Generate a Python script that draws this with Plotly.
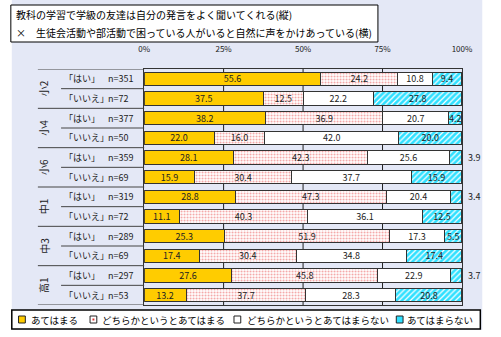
import plotly.graph_objects as go

# ---- data -------------------------------------------------------------
grades = ["小2", "小4", "小6", "中1", "中3", "高1"]
answers = ["「はい」", "「いいえ」"]
n_counts = [351, 72, 377, 50, 359, 69, 319, 72, 289, 69, 297, 53]

series_names = ["あてはまる", "どちらかというとあてはまる",
                "どちらかというとあてはまらない", "あてはまらない"]
s1 = [55.6, 37.5, 38.2, 22.0, 28.1, 15.9, 28.8, 11.1, 25.3, 17.4, 27.6, 13.2]
s2 = [24.2, 12.5, 36.9, 16.0, 42.3, 30.4, 47.3, 40.3, 51.9, 30.4, 45.8, 37.7]
s3 = [10.8, 22.2, 20.7, 42.0, 25.6, 37.7, 20.4, 36.1, 17.3, 34.8, 22.9, 28.3]
s4 = [9.4, 27.8, 4.2, 20.0, 3.9, 15.9, 3.4, 12.5, 5.5, 17.4, 3.7, 20.8]

tick_vals = [0, 25, 50, 75, 100]
tick_text = ["0%", "25%", "50%", "75%", "100%"]
grid_vals = [25, 50, 75]

title_lines = ["教科の学習で学級の友達は自分の発言をよく聞いてくれる(縦)",
               "×　生徒会活動や部活動で困っている人がいると自然に声をかけあっている(横)"]

# ---- geometry helpers (pixel -> paper) --------------------------------
W, H = 501, 337
def px(x):
    return x / W
def py(y):
    return 1 - y / H

FONT = "Noto Sans CJK JP"
rows = list(range(len(s1)))

fill_styles = [
    dict(color="#ffcc00"),
    dict(color="white", pattern=dict(shape=".", fgcolor="#f3a0a0", bgcolor="white",
                                     size=3, solidity=0.3, fillmode="replace")),
    dict(color="white"),
    dict(color="#30e0ff", pattern=dict(shape="/", fgcolor="white", bgcolor="#30e0ff",
                                       size=4, solidity=0.3, fillmode="replace")),
]

fig = go.Figure()
SMALL = 4.0
for k, (name, vals) in enumerate(zip(series_names, [s1, s2, s3, s4])):
    texts = [("" if (k == 3 and v < SMALL) else f"{v:.1f}") for v in vals]
    fig.add_trace(go.Bar(
        x=vals, y=rows, orientation="h", name=name, width=0.68,
        text=texts, textposition="inside", insidetextanchor="middle", textangle=0,
        textfont=dict(family=FONT, size=9, color="#222222"),
        marker=dict(**fill_styles[k], line=dict(color="#333333", width=1)),
        hoverinfo="skip", showlegend=False,
    ))

shapes = []
annotations = []

# page background and frames
shapes.append(dict(type="rect", xref="paper", yref="paper", x0=px(6), x1=px(493),
                   y0=py(330), y1=py(0), fillcolor="#e4e8f6", line=dict(width=0), layer="below"))
shapes.append(dict(type="rect", xref="paper", yref="paper", x0=px(5), x1=px(385),
                   y0=py(42), y1=py(5), fillcolor="white", line=dict(color="black", width=1),
                   layer="below"))
shapes.append(dict(type="rect", xref="paper", yref="paper", x0=px(6), x1=px(491),
                   y0=py(329), y1=py(310), fillcolor="white", line=dict(color="black", width=1.5),
                   layer="below"))

# vertical reference lines behind the bars
for g in grid_vals:
    shapes.append(dict(type="line", xref="x", yref="paper", x0=g, x1=g,
                       y0=py(305), y1=py(69), line=dict(color="#222222", width=1), layer="below"))

# title text
for i, line in enumerate(title_lines):
    annotations.append(dict(x=px(8), y=py(15 + 18 * i), xref="paper", yref="paper",
                            text=line, showarrow=False, xanchor="left", yanchor="middle",
                            font=dict(family=FONT, size=10, color="black")))

# table lines on the left side of the bars
x_plot0 = px(143)
for r in range(len(rows) + 1):
    yv = r - 0.5
    left = px(33) if r % 2 == 0 else px(57)
    shapes.append(dict(type="line", xref="paper", yref="y", x0=left, x1=x_plot0,
                       y0=yv, y1=yv, line=dict(color="#444444", width=1)))

# row labels
for r in rows:
    annotations.append(dict(x=px(58), y=r, xref="paper", yref="y", text=answers[r % 2],
                            showarrow=False, xanchor="left", yanchor="middle",
                            font=dict(family=FONT, size=9, color="#222222")))
    annotations.append(dict(x=px(103), y=r, xref="paper", yref="y", text=f"n={n_counts[r]}",
                            showarrow=False, xanchor="left", yanchor="middle",
                            font=dict(family=FONT, size=9, color="#222222")))
for g, name in enumerate(grades):
    annotations.append(dict(x=px(39), y=2 * g + 0.5, xref="paper", yref="y", text=name,
                            showarrow=False, textangle=-90, xanchor="center", yanchor="middle",
                            font=dict(family=FONT, size=10, color="#222222")))

# small last-segment values written beside the bar end
for r, v in zip(rows, s4):
    if v < SMALL:
        annotations.append(dict(x=100, y=r, xref="x", yref="y", text=f"{v:.1f}",
                                showarrow=False, xanchor="left", yanchor="middle", xshift=4,
                                font=dict(family=FONT, size=9, color="#222222")))

# legend drawn as swatches + text
legend_items = [(13, 24), (87, 97), (236, 247), (404, 413)]
swatch_fill = ["#ffcc00", "white", "white", "#30e0ff"]
for k, ((sx, tx), name) in enumerate(zip(legend_items, series_names)):
    shapes.append(dict(type="rect", xref="paper", yref="paper", x0=px(sx), x1=px(sx + 7),
                       y0=py(323), y1=py(316), fillcolor=swatch_fill[k],
                       line=dict(color="#222222", width=1)))
    if k == 1:
        shapes.append(dict(type="rect", xref="paper", yref="paper", x0=px(sx + 2.5),
                           x1=px(sx + 4.5), y0=py(320.5), y1=py(318.5), fillcolor="#e03030",
                           line=dict(width=0)))
    annotations.append(dict(x=px(tx), y=py(319.5), xref="paper", yref="paper", text=name,
                            showarrow=False, xanchor="left", yanchor="middle",
                            font=dict(family=FONT, size=9.5, color="black")))

fig.update_layout(
    width=W, height=H, margin=dict(l=0, r=0, t=0, b=0),
    paper_bgcolor="white", plot_bgcolor="white",
    barmode="stack", bargap=0.3,
    shapes=shapes, annotations=annotations,
    uniformtext=dict(minsize=9, mode="show"),
    xaxis=dict(domain=[px(143), px(472)], range=[0, 100], side="top",
               tickvals=tick_vals, ticktext=tick_text,
               tickfont=dict(family=FONT, size=8, color="#222222"),
               ticks="outside", ticklen=13, tickcolor="rgba(0,0,0,0)",
               showgrid=False, zeroline=False, showline=True, linecolor="#333333", mirror=True,
               fixedrange=True),
    yaxis=dict(domain=[py(305), py(69)], range=[len(rows) - 0.5, -0.5],
               showticklabels=False, showgrid=False, zeroline=False,
               showline=True, linecolor="#333333", mirror=True, ticks="", fixedrange=True),
)

fig.write_html("out.html")
